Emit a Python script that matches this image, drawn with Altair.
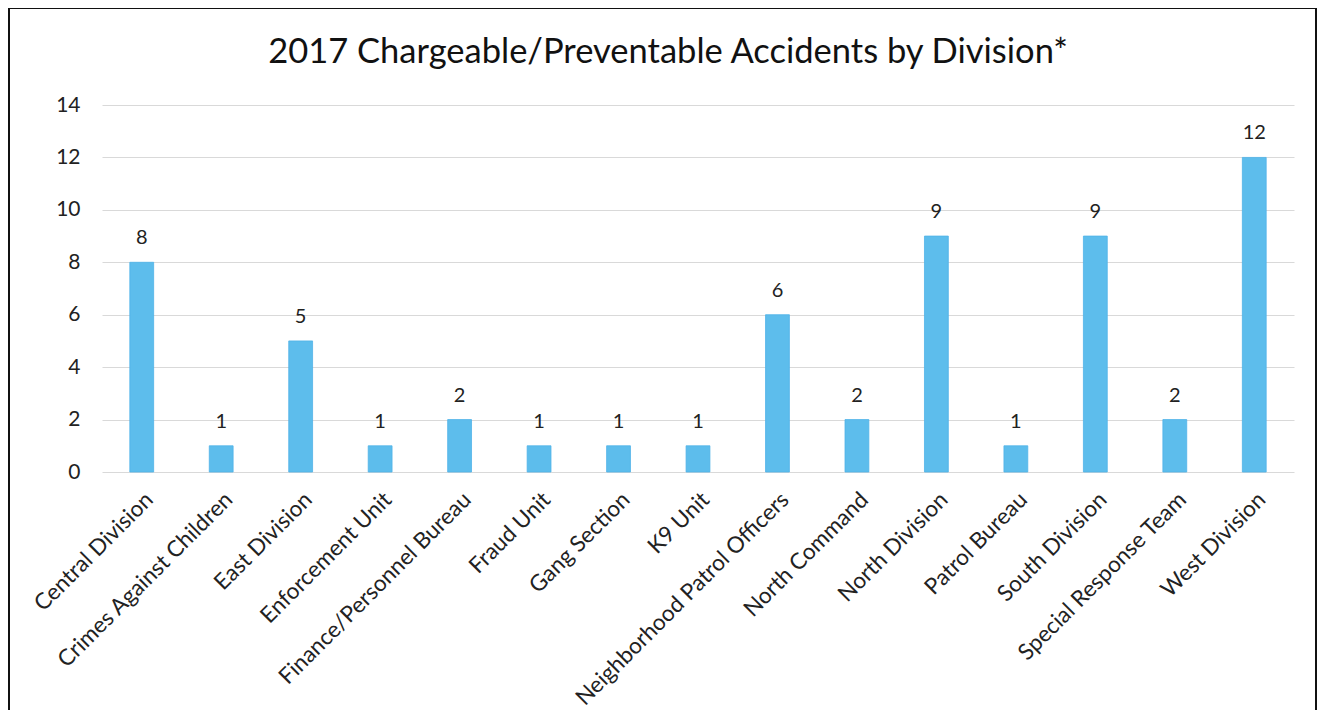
import altair as alt
import pandas as pd

divisions = [
    "Central Division", "Crimes Against Children", "East Division", "Enforcement Unit",
    "Finance/Personnel Bureau", "Fraud Unit", "Gang Section", "K9 Unit",
    "Neighborhood Patrol Officers", "North Command", "North Division", "Patrol Bureau",
    "South Division", "Special Response Team", "West Division",
]
accidents = [8, 1, 5, 1, 2, 1, 1, 1, 6, 2, 9, 1, 9, 2, 12]
title_text = "2017 Chargeable/Preventable Accidents by Division*"

df = pd.DataFrame({"division": divisions, "accidents": accidents})

FONT = "Lato"
W, H = 1192, 367

xenc = alt.X(
    "division:N", sort=None, title=None,
    scale=alt.Scale(paddingInner=0.7, paddingOuter=0.35),
    axis=alt.Axis(labelAngle=-45, labelFont=FONT, labelFontSize=22.5, labelColor="#222222",
                  ticks=False, tickSize=0, domain=False, labelPadding=16, labelLimit=400,
                  grid=False),
)
yenc = alt.Y(
    "accidents:Q", title=None,
    scale=alt.Scale(domain=[0, 14], nice=False),
    axis=alt.Axis(values=[0, 2, 4, 6, 8, 10, 12, 14], labelFont=FONT, labelFontSize=21,
                  labelColor="#222222", ticks=False, tickSize=0, domain=False, labelPadding=22,
                  gridColor="#d9d9d9", gridWidth=1),
)

base = alt.Chart(df)
bars = base.mark_bar(color="#5DBDEC", stroke="#4FB3E8", strokeWidth=0.8).encode(x=xenc, y=yenc)
labels = base.mark_text(baseline="alphabetic", dy=-18, font=FONT, fontSize=20, color="#222222").encode(
    x=alt.X("division:N", sort=None), y="accidents:Q", text="accidents:Q"
)
border = alt.Chart(alt.Data(values=[{"a": 1}])).mark_rect(
    fill=None, stroke="#111111", strokeWidth=2
).encode(
    x=alt.value(-93), x2=alt.value(1214), y=alt.value(-97), y2=alt.value(660)
)
title = alt.Chart(alt.Data(values=[{"t": title_text}])).mark_text(
    font=FONT, fontSize=34.5, color="#111111", align="center", baseline="alphabetic"
).encode(
    x=alt.value(566), y=alt.value(-42), text="t:N"
)

chart = alt.layer(bars, labels, border, title).properties(
    width=W, height=H,
    background="white",
    autosize=alt.AutoSizeParams(type="none"),
    padding={"left": 94, "top": 97, "right": 23, "bottom": 238},
).configure_view(stroke="transparent", strokeWidth=0)

chart.save("out.html", embed_options={"renderer": "svg", "actions": False})
